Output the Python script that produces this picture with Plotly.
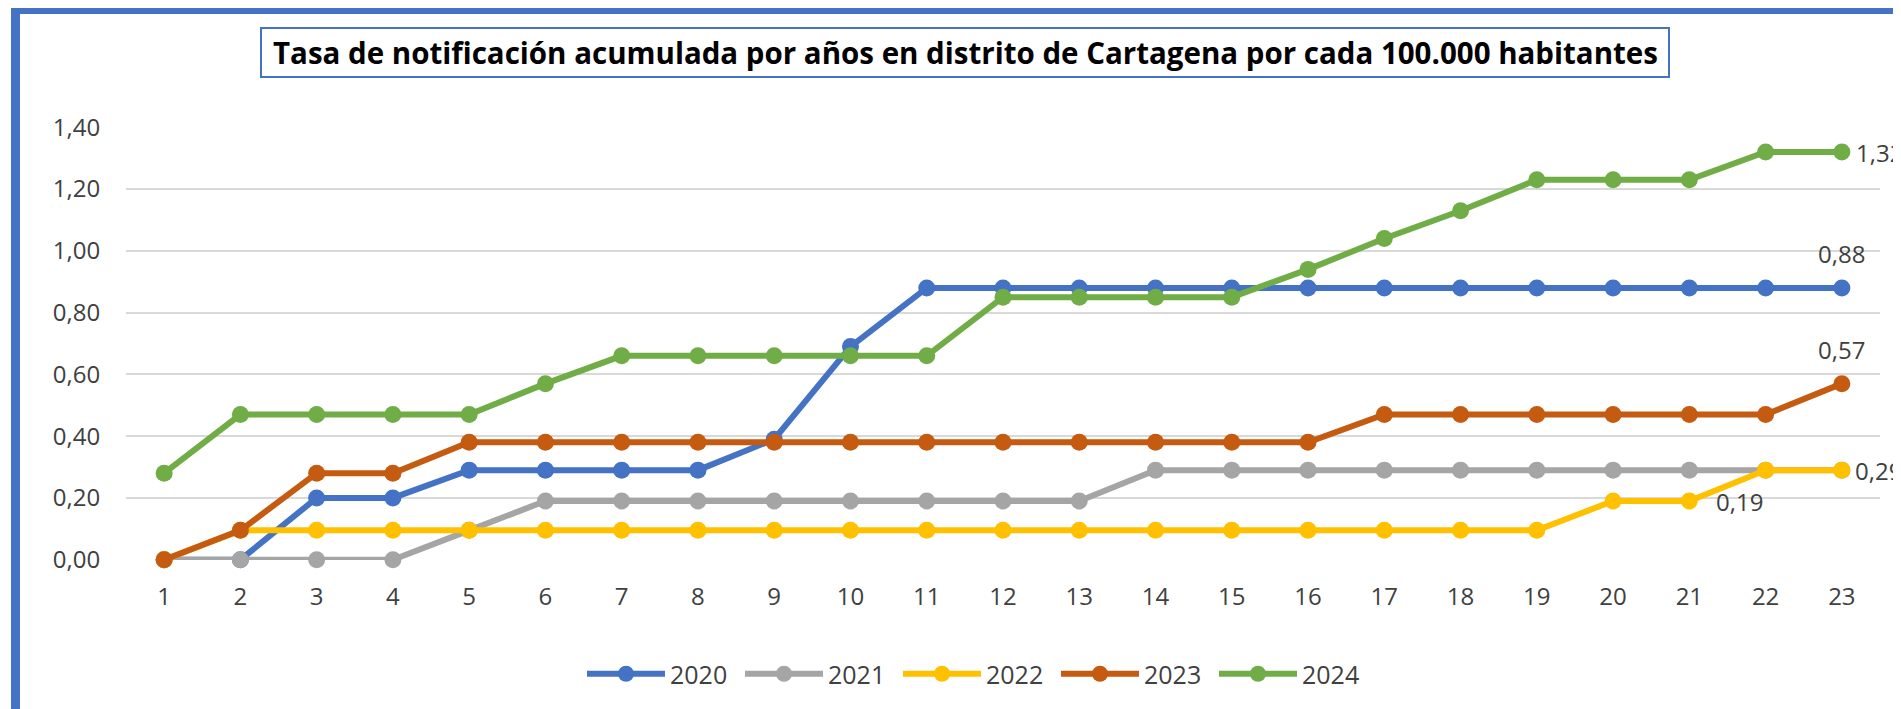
import plotly.graph_objects as go

# ---- data ----
semanas = list(range(1, 24))
series_names = ["2020", "2021", "2022", "2023", "2024"]
v2020 = [0, 0, 0.20, 0.20, 0.29, 0.29, 0.29, 0.29, 0.39, 0.69, 0.88, 0.88,
         0.88, 0.88, 0.88, 0.88, 0.88, 0.88, 0.88, 0.88, 0.88, 0.88, 0.88]
v2021 = [0, 0, 0, 0, 0.095, 0.19, 0.19, 0.19, 0.19, 0.19, 0.19, 0.19,
         0.19, 0.29, 0.29, 0.29, 0.29, 0.29, 0.29, 0.29, 0.29, 0.29, 0.29]
v2022 = [0, 0.095, 0.095, 0.095, 0.095, 0.095, 0.095, 0.095, 0.095, 0.095, 0.095, 0.095,
         0.095, 0.095, 0.095, 0.095, 0.095, 0.095, 0.095, 0.19, 0.19, 0.29, 0.29]
v2023 = [0, 0.095, 0.28, 0.28, 0.38, 0.38, 0.38, 0.38, 0.38, 0.38, 0.38, 0.38,
         0.38, 0.38, 0.38, 0.38, 0.47, 0.47, 0.47, 0.47, 0.47, 0.47, 0.57]
v2024 = [0.28, 0.47, 0.47, 0.47, 0.47, 0.57, 0.66, 0.66, 0.66, 0.66, 0.66, 0.85,
         0.85, 0.85, 0.85, 0.94, 1.04, 1.13, 1.23, 1.23, 1.23, 1.32, 1.32]
colors = ["#4472C4", "#A5A5A5", "#FFC000", "#C55A11", "#70AD47"]
ytickvals = [0, 0.2, 0.4, 0.6, 0.8, 1.0, 1.2, 1.4]
title_text = "Tasa de notificación acumulada por años en distrito de Cartagena por cada 100.000 habitantes"

values = [v2020, v2021, v2022, v2023, v2024]

# page offset of the figure (default body margin)
OFF = 8
W, H = 1901, 709
# plot area in page pixels: x 126..1880, y 127..560
L = 126 - OFF
R = W - (1880 - OFF)
T = 127 - OFF
B = H - (560 - OFF)
pw, ph = W - L - R, H - T - B


def px(xpage):
    return (xpage - OFF - L) / pw


def py(ypage):
    return (H - B - (ypage - OFF)) / ph


FONT = "Open Sans"
TXT = "#404040"

fig = go.Figure()
for name, vals, col in zip(series_names, values, colors):
    fig.add_trace(go.Scatter(
        x=semanas, y=vals, name=name, mode="lines+markers",
        line=dict(color=col, width=6),
        marker=dict(color=col, size=17),
        cliponaxis=False,
    ))


def fmt(v):
    return f"{v:.2f}".replace(".", ",")


annotations = []
# labels above points
for vals in (v2020, v2023):
    annotations.append(dict(x=semanas[-1], y=vals[-1], xref="x", yref="y",
                            text=fmt(vals[-1]), showarrow=False, yshift=34,
                            xanchor="center", yanchor="middle",
                            font=dict(family=FONT, size=24, color=TXT)))
# labels right of points
for vals, idx, xs in ((v2024, -1, 12), (v2022, -1, 11), (v2022, 20, 25)):
    annotations.append(dict(x=semanas[idx], y=vals[idx], xref="x", yref="y",
                            text=fmt(vals[idx]), showarrow=False, xanchor="left",
                            yanchor="middle", xshift=xs,
                            font=dict(family=FONT, size=24, color=TXT)))
# title
annotations.append(dict(x=px(965), y=py(53), xref="paper", yref="paper",
                        xanchor="center", yanchor="middle",
                        text="<b>" + title_text + "</b>", showarrow=False,
                        font=dict(family=FONT, size=29.5, color="#000000")))

shapes = [
    dict(type="rect", xref="paper", yref="paper", x0=px(261), x1=px(1669),
         y0=py(77), y1=py(28), line=dict(color="#4472C4", width=2), fillcolor="rgba(0,0,0,0)"),
    dict(type="rect", xref="paper", yref="paper", x0=px(11), x1=px(1930),
         y0=py(14), y1=py(6), line=dict(width=0), fillcolor="#4472C4"),
    dict(type="rect", xref="paper", yref="paper", x0=px(11), x1=px(20),
         y0=py(740), y1=py(6), line=dict(width=0), fillcolor="#4472C4"),
]

fig.update_layout(
    width=W, height=H,
    margin=dict(l=L, r=R, t=T, b=B, pad=0),
    paper_bgcolor="white", plot_bgcolor="white",
    separators=",.",
    showlegend=True,
    legend=dict(orientation="h", x=px(582), xanchor="left", y=py(674), yanchor="middle",
                font=dict(family=FONT, size=25, color=TXT), itemwidth=78,
                entrywidth=65, entrywidthmode="pixels",
                traceorder="normal"),
    annotations=annotations,
    shapes=shapes,
    font=dict(family=FONT, color=TXT),
)
fig.update_xaxes(range=[0.5, 23.5], tickvals=semanas, showgrid=False, zeroline=False,
                 showline=False, ticks="outside", ticklen=15, tickcolor="rgba(0,0,0,0)",
                 tickfont=dict(family=FONT, size=24, color=TXT))
fig.update_yaxes(range=[-0.001, 1.401], tickvals=ytickvals, tickformat=".2f",
                 showgrid=True, gridcolor="#D9D9D9", gridwidth=2, zeroline=False,
                 showline=False, ticks="outside", ticklen=20, tickcolor="rgba(0,0,0,0)",
                 tickfont=dict(family=FONT, size=24, color=TXT))

fig.write_html("out.html")
